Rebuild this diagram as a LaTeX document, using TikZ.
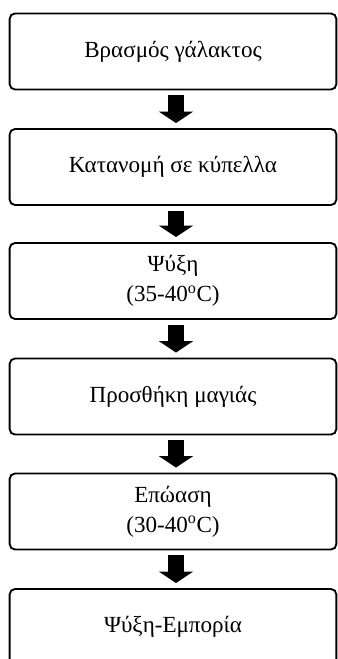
\documentclass[tikz,border=0pt]{standalone}
\usepackage{fontspec}
\setmainfont{Liberation Serif}
\usetikzlibrary{arrows.meta}
\tikzset{
  stepbox/.style={draw, line width=1.4pt, rounded corners=4pt, fill=white,
    minimum width=245pt, minimum height=57pt, align=center,
    font=\fontsize{17.3}{22.5}\selectfont},
  flowarrow/.style={line width=12pt, -{Triangle[width=25pt,length=8.5pt]}}
}
\begin{document}
\begin{tikzpicture}[x=0.75pt,y=-0.75pt]
      \useasboundingbox (0,0) rectangle (338,659);
      \node[stepbox] (boil) at (173,51.5) {Βρασμός γάλακτος};
      \node[stepbox] (distribute) at (173,167) {Κατανομή σε κύπελλα};
      \node[stepbox] (cool) at (173,281) {Ψύξη\\(35-40\textsuperscript{o}C)};
      \node[stepbox] (inoculate) at (173,396.5) {Προσθήκη μαγιάς};
      \node[stepbox] (incubate) at (173,511.5) {Επώαση\\(30-40\textsuperscript{o}C)};
      \node[stepbox] (store) at (173,627) {Ψύξη-Εμπορία};
      \begin{scope}[flowarrow]
        \draw ([xshift=2.25pt,yshift=-3.75pt]boil.south) -- ([xshift=2.25pt,yshift=3.75pt]distribute.north);
        \draw ([xshift=2.25pt,yshift=-3.75pt]distribute.south) -- ([xshift=2.25pt,yshift=3.75pt]cool.north);
        \draw ([xshift=2.25pt,yshift=-3.75pt]cool.south) -- ([xshift=2.25pt,yshift=3.75pt]inoculate.north);
        \draw ([xshift=2.25pt,yshift=-3.75pt]inoculate.south) -- ([xshift=2.25pt,yshift=3.75pt]incubate.north);
        \draw ([xshift=2.25pt,yshift=-3.75pt]incubate.south) -- ([xshift=2.25pt,yshift=3.75pt]store.north);
      \end{scope}
    \end{tikzpicture}
\end{document}
